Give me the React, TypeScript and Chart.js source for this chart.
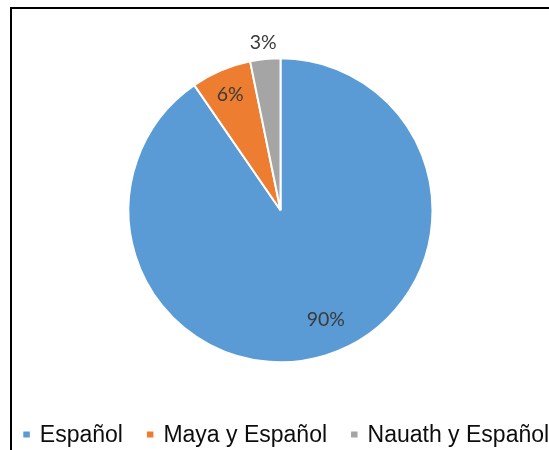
import React, { useEffect, useRef } from "react";
import { Chart, registerables } from "chart.js";

Chart.register(...registerables);

// ---- data ----
const categories = ["Español", "Maya y Español", "Nauath y Español"];
const shares = [90.4, 6.4, 3.2];
const sliceLabels = ["90%", "6%", "3%"];
const colors = ["#5B9BD5", "#ED7D31", "#A5A5A5"];

// ---- label placement styles (radius factor, angular shift in degrees) ----
const labelRadius = [0.777, 0.832, 1.115];
const labelAngleShift = [-5.3, -0.4, -0.1];

const W = 549;
const H = 450;

const sliceLabelPlugin = {
  id: "sliceLabels",
  afterDatasetsDraw(chart: any) {
    const ctx = chart.ctx;
    const meta = chart.getDatasetMeta(0);
    const fs = 19.5;
    ctx.save();
    ctx.font = `${fs}px Lato`;
    ctx.fillStyle = "#3a3a3a";
    ctx.textAlign = "center";
    ctx.textBaseline = "alphabetic";
    meta.data.forEach((arc: any, i: number) => {
      const p = arc.getProps(["x", "y", "startAngle", "endAngle", "outerRadius"], true);
      const mid = (p.startAngle + p.endAngle) / 2 + (labelAngleShift[i] * Math.PI) / 180;
      const r = p.outerRadius * labelRadius[i];
      const lx = p.x + Math.cos(mid) * r;
      const ly = p.y + Math.sin(mid) * r;
      ctx.fillText(sliceLabels[i], lx, ly + fs * 0.36);
    });
    ctx.restore();
  },
};

const legendPlugin = {
  id: "bottomLegend",
  afterDraw(chart: any) {
    const ctx = chart.ctx;
    const labels: string[] = chart.data.labels;
    const bg: string[] = chart.data.datasets[0].backgroundColor;
    ctx.save();
    ctx.font = "23px 'Liberation Sans', Arial, sans-serif";
    ctx.textAlign = "left";
    ctx.textBaseline = "alphabetic";
    let x = 23.3;
    const baseY = 441.7;
    labels.forEach((c, i) => {
      ctx.fillStyle = bg[i];
      ctx.fillRect(x, 431.5, 6.5, 6);
      x += 6.5 + 10;
      ctx.fillStyle = "#0d0d0d";
      ctx.fillText(c, x, baseY);
      x += ctx.measureText(c).width + 24;
    });
    ctx.restore();
  },
};

export default function App() {
  const ref = useRef<HTMLCanvasElement | null>(null);

  useEffect(() => {
    if (!ref.current) return;
    const cx = 280.5;
    const cy = 210.3;
    const half = 153;
    const chart = new Chart(ref.current, {
      type: "pie",
      data: {
        labels: categories,
        datasets: [
          {
            data: shares,
            backgroundColor: colors,
            borderColor: "#ffffff",
            borderWidth: 2,
          },
        ],
      },
      options: {
        responsive: false,
        animation: false,
        events: [],
        devicePixelRatio: 1,
        layout: {
          padding: {
            left: cx - half,
            top: cy - half,
            right: W - (cx + half),
            bottom: H - (cy + half),
          },
        },
        plugins: {
          legend: { display: false },
          tooltip: { enabled: false },
          title: { display: false },
        },
      },
      plugins: [sliceLabelPlugin, legendPlugin],
    });
    return () => chart.destroy();
  }, []);

  return (
    <div
      style={{
        position: "fixed",
        left: 0,
        top: 0,
        width: W,
        height: H,
        overflow: "hidden",
        background: "#ffffff",
      }}
    >
      <div
        style={{
          position: "absolute",
          left: 10,
          top: 7,
          width: 600,
          height: 500,
          border: "2px solid #000",
          boxSizing: "border-box",
        }}
      />
      <canvas
        ref={ref}
        width={W}
        height={H}
        style={{ position: "absolute", left: 0, top: 0, width: W, height: H }}
      />
    </div>
  );
}
